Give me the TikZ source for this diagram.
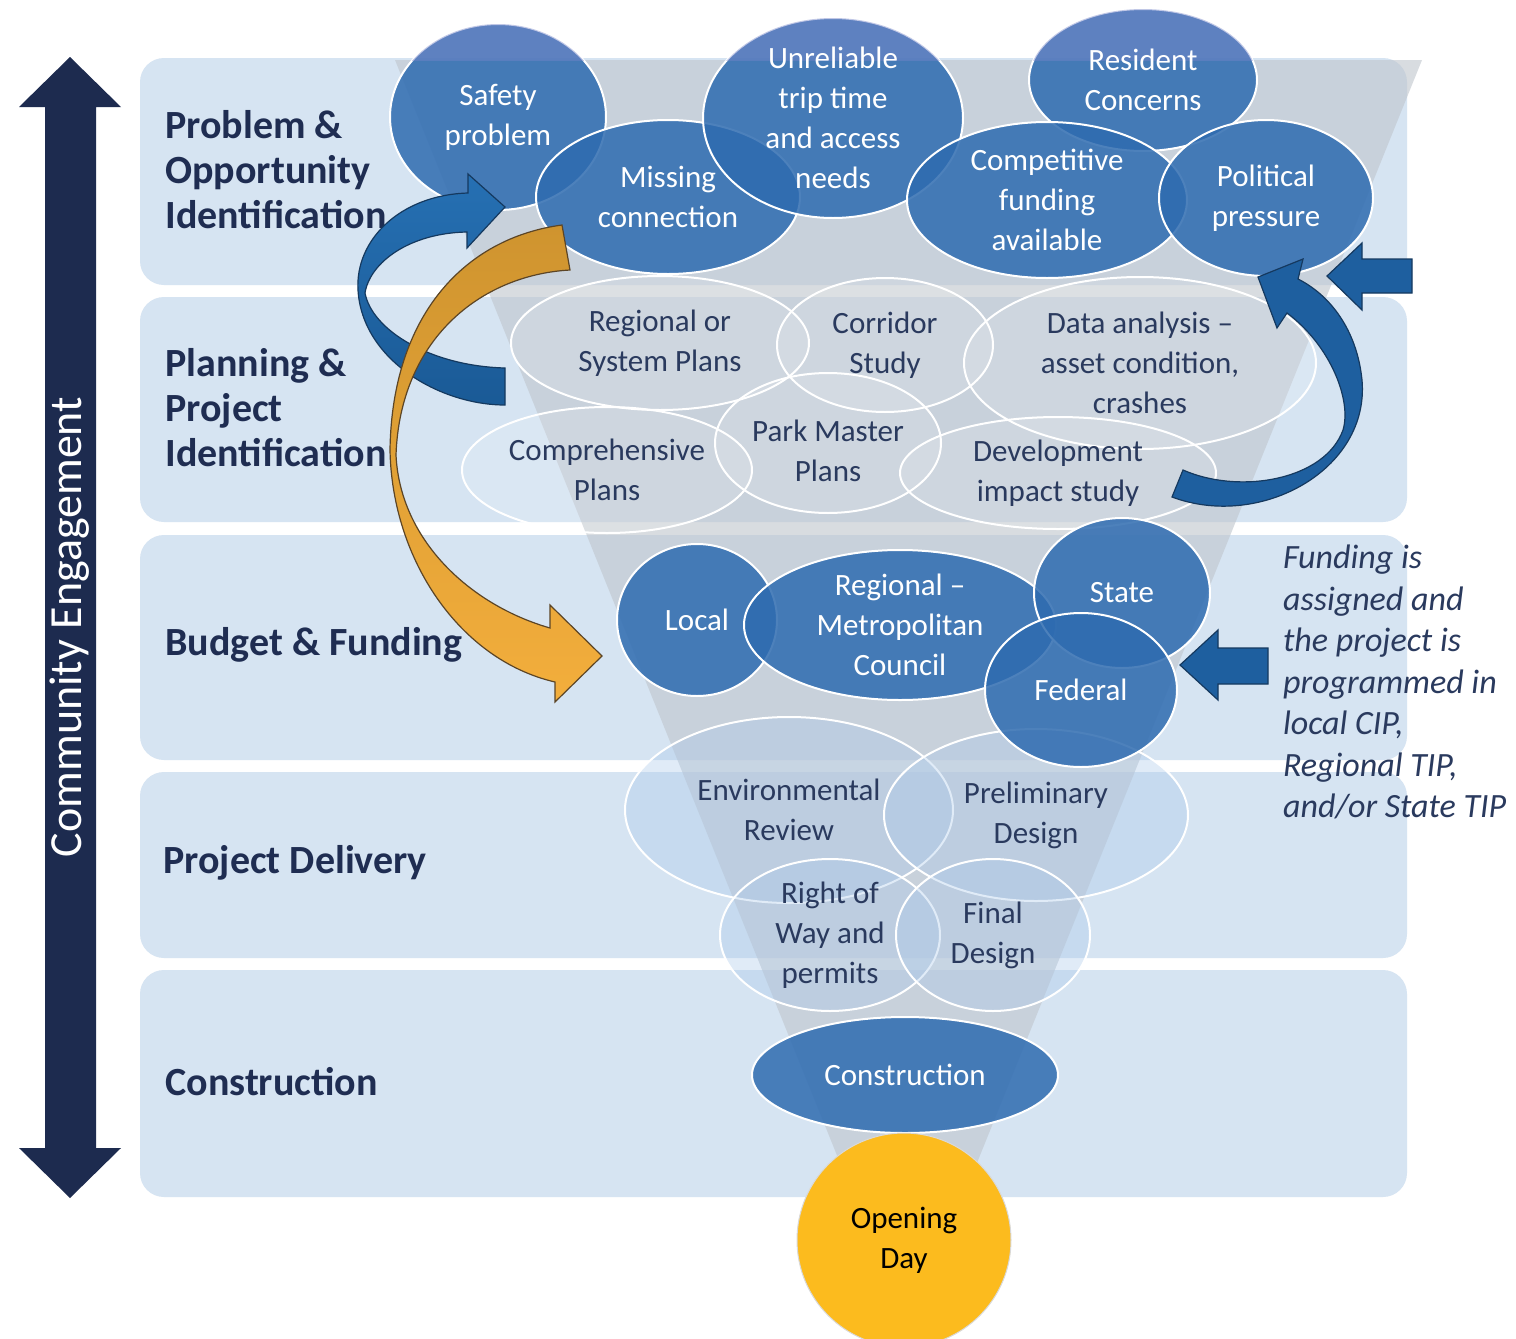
\documentclass[tikz,border=0pt]{standalone}
\usepackage{fontspec}
\setmainfont{Carlito}
\usetikzlibrary{shapes.geometric}

\definecolor{bandblue}{HTML}{D6E4F2}
\definecolor{funnelgray}{HTML}{BFC5CC}
\definecolor{bubbleblue}{HTML}{2E6BB0}
\definecolor{paleblue}{HTML}{A9C8EA}
\definecolor{navy}{HTML}{1F2D52}
\definecolor{inknavy}{HTML}{2A3A5E}
\definecolor{engagenavy}{HTML}{1D2B4F}
\definecolor{ribbonmid}{HTML}{1E5F9F}
\definecolor{ribbonedge}{HTML}{15395F}
\definecolor{ribbonlight}{HTML}{2670B3}
\definecolor{ribbondark}{HTML}{1A5A96}
\definecolor{orangelight}{HTML}{F3AE3C}
\definecolor{orangedark}{HTML}{CF942F}
\definecolor{orangeedge}{HTML}{5C4526}
\definecolor{gold}{HTML}{FCBB1E}
\definecolor{topwash}{HTML}{7483C8}

\begin{document}
\begin{tikzpicture}[
    x=0.5pt, y=-0.5pt,
    stageband/.style={fill=bandblue, rounded corners=12pt},
    stagelabel/.style={anchor=west, align=left, inner sep=0pt, text=navy, font=\fontsize{20}{22.5}\selectfont\bfseries},
    darkbubble/.style={ellipse, draw=white, line width=1pt, fill=bubbleblue, fill opacity=0.85, inner sep=0pt},
    planbubble/.style={ellipse, draw=white, line width=1pt, fill=white, fill opacity=0.12, inner sep=0pt},
    stepbubble/.style={ellipse, draw=white, line width=1pt, fill=paleblue, fill opacity=0.35, inner sep=0pt},
    darktext/.style={align=center, text=white, font=\fontsize{15.5}{20}\selectfont},
    lighttext/.style={align=center, text=inknavy, font=\fontsize{15.5}{20}\selectfont},
    blockarrow/.style={fill=ribbonmid, draw=ribbonedge, line width=0.6pt},
]
\useasboundingbox[fill=white] (0,0) rectangle (1516,1339);

% === Stage bands ===
\fill[stageband] (140,58) rectangle (1407,285);
\fill[stageband] (140,297) rectangle (1407,522);
\fill[stageband] (140,535) rectangle (1407,760);
\fill[stageband] (140,772) rectangle (1407,958);
\fill[stageband] (140,970) rectangle (1407,1197);

% === Funnel ===
\fill[funnelgray, fill opacity=0.6] (395,60) -- (1422,60) -- (962,1200) -- (855,1200) -- cycle;

% === Stage labels ===
\node[stagelabel] (stage1) at (165,170) {Problem \&\\Opportunity\\Identification};
\node[stagelabel] (stage2) at (165,408) {Planning \&\\Project\\Identification};
\node[stagelabel] (stage3) at (165,645) {Budget \& Funding};
\node[stagelabel] (stage4) at (163,863) {Project Delivery};
\node[stagelabel] (stage5) at (165,1082) {Construction};

% === Community engagement arrow ===
\fill[engagenavy] (70,57) -- (121,107) -- (96,107) -- (96,1148) -- (121,1148) -- (70,1198)
    -- (19,1148) -- (45,1148) -- (45,107) -- (19,107) -- cycle;
\node[rotate=90, text=white, font=\fontsize{23}{26}\selectfont] (engage) at (70,627) {Community Engagement};

% === Planning bubbles ===
\node[planbubble, minimum width=149pt, minimum height=67pt] (regional) at (660,343) {};
\node[planbubble, minimum width=108pt, minimum height=67pt] (corridor) at (885,345) {};
\node[planbubble, minimum width=176pt, minimum height=86pt] (data) at (1140,363) {};
\node[planbubble, minimum width=145pt, minimum height=63pt] (comprehensive) at (607,470) {};
\node[planbubble, minimum width=113pt, minimum height=70pt] (park) at (828,443) {};
\node[planbubble, minimum width=158pt, minimum height=56pt] (development) at (1058,473) {};

% === Delivery bubbles ===
\node[stepbubble, minimum width=164pt, minimum height=93pt] (environmental) at (789,810) {};
\node[stepbubble, minimum width=152pt, minimum height=86pt] (preliminary) at (1036,815) {};
\node[stepbubble, minimum width=110pt, minimum height=76pt] (rightofway) at (830,935) {};
\node[stepbubble, minimum width=97pt, minimum height=76pt] (finaldesign) at (993,935) {};

% === Problem bubbles ===
\node[darkbubble, minimum width=108pt, minimum height=93pt] (safety) at (498,117) {};
\node[darkbubble, minimum width=132pt, minimum height=77pt] (missing) at (668,197) {};
\node[darkbubble, minimum width=130pt, minimum height=100pt] (unreliable) at (833,118) {};
\node[darkbubble, minimum width=114pt, minimum height=71pt] (resident) at (1143,80) {};
\node[darkbubble, minimum width=140pt, minimum height=78pt] (competitive) at (1047,200) {};
\node[darkbubble, minimum width=107pt, minimum height=78pt] (political) at (1266,198) {};

% lighter wash where bubbles rise above the bands
\begin{scope}
\clip (0,0) rectangle (1516,60);
\fill[topwash, fill opacity=0.45] (safety.center) ellipse [x radius=108, y radius=93];
\fill[topwash, fill opacity=0.45] (unreliable.center) ellipse [x radius=130, y radius=100];
\fill[topwash, fill opacity=0.45] (resident.center) ellipse [x radius=114, y radius=71];
\end{scope}

% === Funding bubbles ===
\node[darkbubble, minimum width=80pt, minimum height=76pt] (local) at (697,620) {};
\node[darkbubble, minimum width=156pt, minimum height=75pt] (metro) at (900,625) {};
\node[darkbubble, minimum width=88pt, minimum height=75pt] (state) at (1122,593) {};
\node[darkbubble, minimum width=96pt, minimum height=77pt] (federal) at (1081,690) {};

% === Construction and opening ===
\node[darkbubble, minimum width=153pt, minimum height=58pt] (construction) at (905,1075) {};
\node[circle, fill=gold, draw=black!15, line width=0.5pt, minimum size=107pt, inner sep=0pt] (opening) at (904,1240) {};

% === Bubble texts ===
\node[darktext] (safety-t) at (safety) {Safety\\problem};
\node[darktext] (missing-t) at (missing) {Missing\\connection};
\node[darktext] (unreliable-t) at (unreliable) {Unreliable\\trip time\\and access\\needs};
\node[darktext] (resident-t) at (resident) {Resident\\Concerns};
\node[darktext] (competitive-t) at (competitive) {Competitive\\funding\\available};
\node[darktext] (political-t) at (political) {Political\\pressure};

\node[lighttext] (regional-t) at (regional) {Regional or\\System Plans};
\node[lighttext] (corridor-t) at (corridor) {Corridor\\Study};
\node[lighttext] (data-t) at (data) {Data analysis –\\asset condition,\\crashes};
\node[lighttext] (comprehensive-t) at (comprehensive) {Comprehensive\\Plans};
\node[lighttext] (park-t) at (828,451) {Park Master\\Plans};
\node[lighttext] (development-t) at (development) {Development\\impact study};

\node[darktext] (local-t) at (local) {Local};
\node[darktext] (metro-t) at (metro) {Regional –\\Metropolitan\\Council};
\node[darktext] (state-t) at (state) {State};
\node[darktext] (federal-t) at (federal) {Federal};

\node[lighttext] (environmental-t) at (environmental) {Environmental\\Review};
\node[lighttext] (preliminary-t) at (preliminary) {Preliminary\\Design};
\node[lighttext] (rightofway-t) at (rightofway) {Right of\\Way and\\permits};
\node[lighttext] (finaldesign-t) at (finaldesign) {Final\\Design};

\node[darktext] (construction-t) at (construction) {Construction};
\node[lighttext, text=black] (opening-t) at (opening) {Opening\\Day};

% === Ribbon arrows ===
% loop back from planning to problem
\path[draw=ribbonedge, line width=0.6pt, top color=ribbonlight, bottom color=ribbondark]
    (505,368) .. controls (430,366) and (372,330) .. (365,293)
    .. controls (370,262) and (410,233) .. (467,232)
    -- (467,248) -- (505,207) -- (468,174) -- (468,193)
    .. controls (400,195) and (355,240) .. (358,290)
    .. controls (362,360) and (440,405) .. (505,405) -- cycle;
% problem straight to funding
\path[draw=orangeedge, line width=0.6pt, top color=orangedark, bottom color=orangelight]
    (562,225) .. controls (465,238) and (392,315) .. (390,450)
    .. controls (392,560) and (460,660) .. (555,682)
    -- (555,702) -- (602,656) -- (550,605) -- (550,628)
    .. controls (470,605) and (400,540) .. (396,455)
    .. controls (400,340) and (480,275) .. (570,270) -- cycle;
% development impact back up
\path[blockarrow]
    (1172,497) .. controls (1260,530) and (1370,470) .. (1362,380)
    .. controls (1357,330) and (1330,295) .. (1298,279)
    -- (1303,259) -- (1258,277) -- (1277,328) -- (1287,313)
    .. controls (1330,345) and (1352,400) .. (1343,430)
    .. controls (1325,480) and (1240,495) .. (1183,470) -- cycle;

% === Block arrows from the right ===
\draw[blockarrow] (1327,276) -- (1362,243) -- (1362,259) -- (1412,259) -- (1412,293)
    -- (1362,293) -- (1362,310) -- cycle;
\draw[blockarrow] (1180,665) -- (1218,630) -- (1218,648) -- (1268,648) -- (1268,684)
    -- (1218,684) -- (1218,700) -- cycle;

% === Funding note ===
\node[anchor=west, align=left, text=inknavy, font=\fontsize{17}{20.75}\selectfont\itshape] (fundnote) at (1276,682)
    {Funding is\\assigned and\\the project is\\programmed in\\local CIP,\\Regional TIP,\\and/or State TIP};

\end{tikzpicture}
\end{document}
